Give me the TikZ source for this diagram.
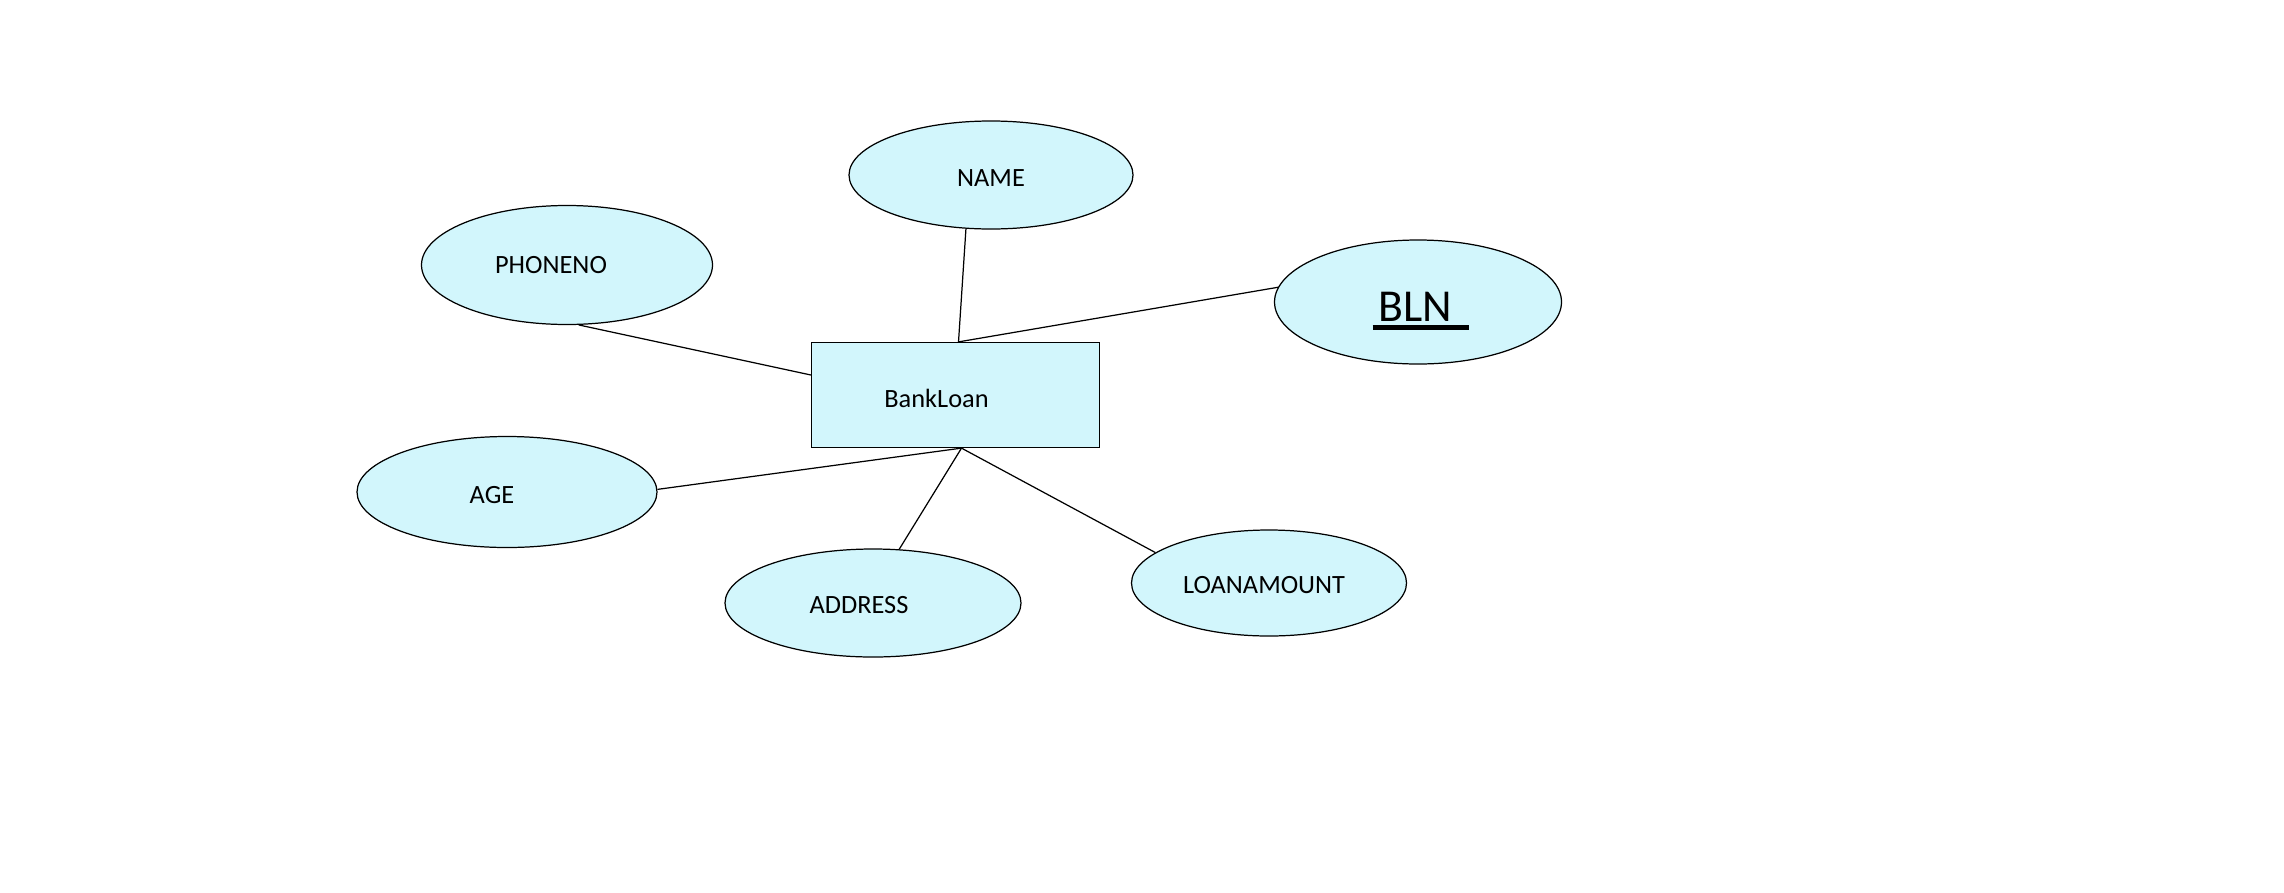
\documentclass[tikz,border=0pt]{standalone}
\usepackage{fontspec}
\setmainfont{Carlito}
\usepackage{xcolor}
\definecolor{er_fill}{RGB}{210, 246, 252}
\usepackage{tikz}
\usetikzlibrary{shapes.geometric}
\newcommand{\keyul}[1]{\vtop{\hbox{#1}\kern1.2pt\hrule height 1.4pt}}

\begin{document}
\begin{tikzpicture}[font=\fontsize{7.5}{9}\selectfont, line width=0.35pt,
            attr/.style={ellipse, draw, fill=er_fill, inner sep=0pt},
            ent/.style={draw, fill=er_fill, inner sep=0pt,
                        minimum width=2.88cm, minimum height=1.05cm}]
            \useasboundingbox (0,0) rectangle (22.84,-8.92);
            % entity
            \node[ent, label={[xshift=-1.9mm,yshift=-0.3mm]center:BankLoan}]
              (bank) at (9.555,-3.95) {};
            % attributes
            \node[attr, minimum width=2.84cm, minimum height=1.08cm,
                  label={[yshift=-0.3mm]center:NAME}] (name) at (9.91,-1.75) {};
            \node[attr, minimum width=2.91cm, minimum height=1.19cm,
                  label={[xshift=-1.6mm]center:PHONENO}] (phone) at (5.67,-2.65) {};
            \node[attr, minimum width=2.87cm, minimum height=1.24cm,
                  label={[xshift=0.3mm,yshift=-0.9mm,font=\fontsize{13}{15}\selectfont]center:\keyul{\kern1.6pt BLN\kern5pt}}]
              (bln) at (14.18,-3.02) {};
            \node[attr, minimum width=3.00cm, minimum height=1.11cm,
                  label={[xshift=-1.5mm,yshift=-0.3mm]center:AGE}] (age) at (5.07,-4.92) {};
            \node[attr, minimum width=2.96cm, minimum height=1.08cm,
                  label={[xshift=-1.4mm,yshift=-0.2mm]center:ADDRESS}] (addr) at (8.73,-6.03) {};
            \node[attr, minimum width=2.75cm, minimum height=1.06cm,
                  label={[xshift=-0.5mm,yshift=-0.2mm]center:LOANAMOUNT}] (amt) at (12.69,-5.83) {};
            % attachment points on the entity
            \coordinate (btop) at ([xshift=0.3mm]bank.north);
            \coordinate (bbot) at ([xshift=0.6mm]bank.south);
            \coordinate (bleft) at ([yshift=2mm]bank.west);
            % links
            \draw (name.-115) -- (btop);
            \draw (bln.174) -- (btop);
            \draw (phone.-79) -- (bleft);
            \draw (age.1) -- (bbot);
            \draw (addr.64) -- (bbot);
            \draw (amt.165) -- (bbot);
          \end{tikzpicture}
\end{document}
